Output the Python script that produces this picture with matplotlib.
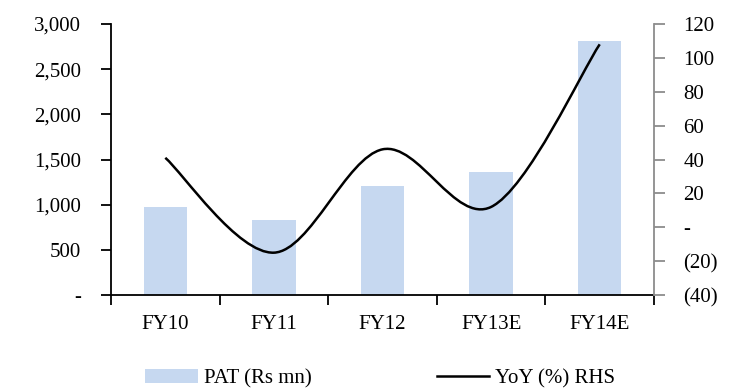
import numpy as np
import matplotlib
matplotlib.use('Agg')
from matplotlib import pyplot as plt
from matplotlib.path import Path
from matplotlib.patches import PathPatch, Patch
from matplotlib.lines import Line2D
from matplotlib.ticker import FuncFormatter

plt.rcParams['font.family'] = ['Liberation Serif', 'DejaVu Serif']

# data
years = ['FY10', 'FY11', 'FY12', 'FY13E', 'FY14E']
pat = [975, 828, 1207, 1360, 2812]       # Rs mn, left axis
yoy = [41, -15, 46, 12, 108]             # %, right axis

bar_color = '#C6D8F0'
fs = 15


def smooth_path(xs, ys):
    # excel-style smoothed line: cubic bezier with catmull-rom control points
    pts = np.column_stack([xs, ys]).astype(float)
    verts = [pts[0]]
    codes = [Path.MOVETO]
    n = len(pts)
    for i in range(n - 1):
        p0 = pts[i - 1] if i > 0 else pts[i]
        p1 = pts[i]
        p2 = pts[i + 1]
        p3 = pts[i + 2] if i + 2 < n else pts[i + 1]
        c1 = p1 + (p2 - p0) / 6.0
        c2 = p2 - (p3 - p1) / 6.0
        verts += [c1, c2, p2]
        codes += [Path.CURVE4] * 3
    return Path(verts, codes)


fig = plt.figure(figsize=(7.41, 3.92), dpi=100)
ax = fig.add_axes([0.1498, 0.2474, 0.7328, 0.6914])
ax2 = ax.twinx()

x = np.arange(len(years))
ax.bar(x, pat, width=0.4, color=bar_color, zorder=2)
ax.set_xlim(-0.5, len(years) - 0.5)
ax.set_ylim(0, 3000)
ax.set_yticks(np.arange(0, 3001, 500))
ax.yaxis.set_major_formatter(FuncFormatter(lambda v, p: '-' if v == 0 else f'{v:,.0f}'))

# category boundary ticks, labels sit on minor ticks
ax.set_xticks(np.arange(-0.5, len(years), 1.0))
ax.set_xticklabels([])
ax.set_xticks(x, minor=True)
ax.set_xticklabels(years, minor=True)
ax.tick_params(axis='x', which='major', direction='out', length=7, width=1.3, color='black')
ax.tick_params(axis='x', which='minor', length=0, pad=14.5, labelsize=fs)
ax.tick_params(axis='y', direction='out', length=7, width=1.3, pad=14.5, labelsize=fs)

for s in ['top', 'right']:
    ax.spines[s].set_visible(False)
ax.spines['left'].set_linewidth(1.3)
ax.spines['bottom'].set_linewidth(1.3)

ax2.set_ylim(-40, 120)
ax2.set_yticks(np.arange(-40, 121, 20))
ax2.yaxis.set_major_formatter(FuncFormatter(
    lambda v, p: '-' if v == 0 else (f'({abs(v):.0f})' if v < 0 else f'{v:.0f}')))
ax2.tick_params(axis='y', direction='out', length=8, width=1.3, color='#8c8c8c', pad=13, labelsize=fs)
for s in ['top', 'left', 'bottom']:
    ax2.spines[s].set_visible(False)
ax2.spines['right'].set_color('#8c8c8c')
ax2.spines['right'].set_linewidth(1.3)

ax2.add_patch(PathPatch(smooth_path(x, yoy), facecolor='none', edgecolor='black', lw=1.8, zorder=3))

handles = [Patch(facecolor=bar_color, edgecolor='none'),
           Line2D([], [], color='black', lw=1.8)]
fig.legend(handles, ['PAT (Rs mn)', 'YoY (%) RHS'], loc='center', ncol=2,
           bbox_to_anchor=(0.513, 0.034), frameon=False, fontsize=fs,
           handlelength=2.5, handleheight=0.7, handletextpad=0.3, columnspacing=6.0)

fig.savefig('out.png', dpi=100)
